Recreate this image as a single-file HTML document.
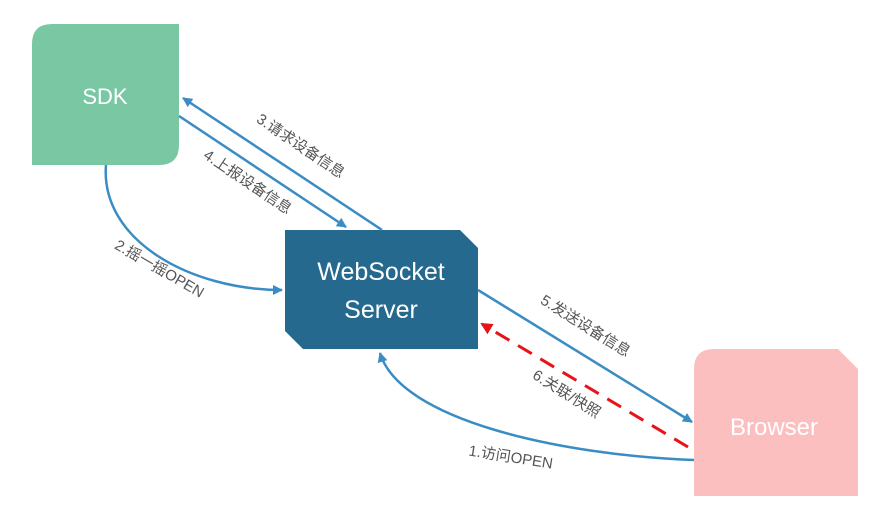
<!DOCTYPE html>
<html><head><meta charset="utf-8"><style>
body{margin:0;background:#fff;width:889px;height:526px;overflow:hidden}
svg text{font-family:"Liberation Sans","Noto Sans CJK SC",sans-serif}
</style></head><body>
<svg width="889" height="526" viewBox="0 0 889 526" xmlns="http://www.w3.org/2000/svg">
<defs>
<marker id="a" markerWidth="10" markerHeight="10" refX="9" refY="5" orient="auto" markerUnits="userSpaceOnUse" viewBox="0 0 10 10"><path d="M0,0 L10,5 L0,10 z" fill="#3a8cc4"/></marker>
<marker id="r" markerWidth="12" markerHeight="12" refX="10" refY="6" orient="auto" markerUnits="userSpaceOnUse" viewBox="0 0 12 12"><path d="M0,0 L12,6 L0,12 z" fill="#e8121b"/></marker>
</defs>
<path d="M52,24 H179 V145 Q179,165 159,165 H32 V44 Q32,24 52,24 Z" fill="#79c8a3"/>
<text x="105" y="104" font-size="22" fill="#fff" text-anchor="middle">SDK</text>
<path d="M285,230 H460 L478,248 V349 H303 L285,331 Z" fill="#26698f"/>
<text x="381" y="280" font-size="25" fill="#fff" text-anchor="middle">WebSocket</text>
<text x="381" y="318" font-size="25" fill="#fff" text-anchor="middle">Server</text>
<path d="M714,349 H838 L858,369 V496 H694 V369 Q694,349 714,349 Z" fill="#fcbfbf"/>
<text x="774" y="435" font-size="24" fill="#fff" text-anchor="middle">Browser</text>
<g stroke="#3a8cc4" stroke-width="2.5" fill="none">
<line x1="382" y1="230" x2="183" y2="98" marker-end="url(#a)"/>
<line x1="179" y1="116" x2="346" y2="227" marker-end="url(#a)"/>
<path d="M106,165 C100,240 190,290 282,290" marker-end="url(#a)"/>
<line x1="478" y1="290" x2="692" y2="422" marker-end="url(#a)"/>
<path d="M694,460 C560,455 400,420 380,353" marker-end="url(#a)"/>
</g>
<line x1="688" y1="447" x2="482" y2="324" stroke="#e8121b" stroke-width="3" stroke-dasharray="16,10" marker-end="url(#r)"/>
<g font-size="15" fill="#555">
<text transform="translate(298,150) rotate(34)" text-anchor="middle">3.请求设备信息</text>
<text transform="translate(245,186) rotate(34)" text-anchor="middle">4.上报设备信息</text>
<text transform="translate(157,273) rotate(30)" text-anchor="middle">2.摇一摇OPEN</text>
<text transform="translate(583,330) rotate(32)" text-anchor="middle">5.发送设备信息</text>
<text transform="translate(564,398) rotate(32)" text-anchor="middle">6.关联/快照</text>
<text transform="translate(510,462) rotate(9)" text-anchor="middle">1.访问OPEN</text>
</g>
</svg>
</body></html>
